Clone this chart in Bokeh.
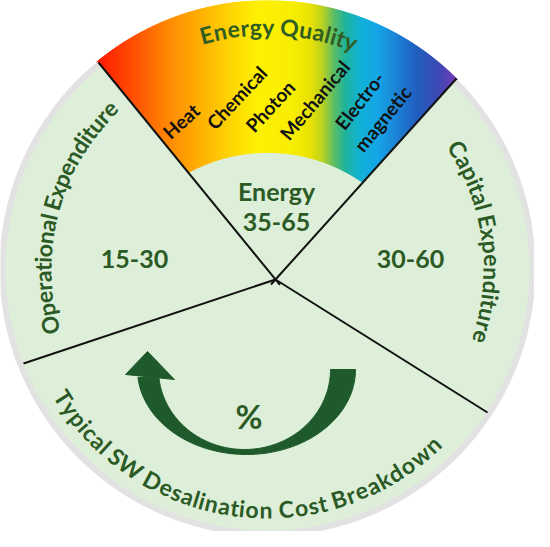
import math
from bokeh.plotting import figure
from bokeh.models import Range1d
from bokeh.core.properties import value
from bokeh.embed import file_html
from bokeh.resources import INLINE

# ---------------- content ----------------
chart_title = "Typical SW Desalination Cost Breakdown"
unit_label = "%"
energy_title = "Energy Quality"
segment_names = ["Energy", "Operational Expenditure", "Capital Expenditure"]
segment_ranges = ["35-65", "15-30", "30-60"]
energy_forms = ["Heat", "Chemical", "Photon", "Mechanical", "Electro-", "magnetic"]

# ---------------- layout / style ----------------
W, H = 550, 547
FONT = "Lato"
GREEN_TXT = "#2b5a25"
ARROW = "#1e5a2b"
BG_GREEN = "#ddefd9"
RIM = "#e2e2e2"

CX, CY = 275.0, 276.0          # circle centre (screen px)
R_OUT, R_IN = 268.0, 262.0
HUB = (283.0, 287.0)
ENDS = {"ul": (106, 70), "ur": (464, 86), "l": (31, 371), "lr": (495, 420)}
IN_C, IN_R = (275.0, 326.0), 166.0

RAINBOW = [(104, "#ff1400"), (140, "#ff4c00"), (175, "#ff8600"), (210, "#ffb200"),
           (245, "#ffdc00"), (265, "#fff000"), (300, "#f8ee00"), (318, "#eae200"),
           (330, "#bcd21e"), (342, "#5abb66"), (353, "#1db39a"), (368, "#0fb0d6"),
           (386, "#14a4e8"), (405, "#1a7fd4"), (425, "#1f5cbd"), (445, "#3848b4"),
           (466, "#7a36b4")]

def D(x, y):
    return x, H - y

def hex2rgb(h):
    return tuple(int(h[i:i + 2], 16) for i in (1, 3, 5))

def color_at(x):
    if x <= RAINBOW[0][0]:
        return RAINBOW[0][1]
    for (x0, c0), (x1, c1) in zip(RAINBOW[:-1], RAINBOW[1:]):
        if x0 <= x <= x1:
            t = (x - x0) / (x1 - x0)
            a, b = hex2rgb(c0), hex2rgb(c1)
            return "#%02x%02x%02x" % tuple(int(round(a[i] + (b[i] - a[i]) * t)) for i in range(3))
    return RAINBOW[-1][1]

p = figure(width=534, height=531, output_backend="svg", toolbar_location=None,
           x_range=Range1d(8, 542), y_range=Range1d(8, 539),
           min_border=0, outline_line_color=None, background_fill_color="white",
           border_fill_color="white")
p.axis.visible = False
p.grid.visible = False

# base disc
p.circle(x=[CX], y=[H - CY], radius=R_OUT, fill_color=RIM, line_color=None)
p.circle(x=[CX], y=[H - CY], radius=R_IN, fill_color=BG_GREEN, line_color=None)

# rainbow band (energy quality)
def y_top(x):
    d = R_OUT ** 2 - (x - CX) ** 2
    return CY - math.sqrt(d) if d > 0 else 1e9

def y_bot(x):
    hx, hy = HUB
    ulx, uly = ENDS["ul"]
    urx, ury = ENDS["ur"]
    yl = hy + (x - hx) * (hy - uly) / (hx - ulx)
    yr = hy + (x - hx) * (ury - hy) / (urx - hx)
    d = IN_R ** 2 - (x - IN_C[0]) ** 2
    yi = IN_C[1] - math.sqrt(d) if d > 0 else 1e9
    return min(yl, yr, yi)

xs, ys, cols = [], [], []
step = 1.0
x = 100.0
while x < 470:
    x0, x1 = x, x + step + 0.4
    t0, t1 = y_top(x0), y_top(x1)
    b0, b1 = y_bot(x0), y_bot(x1)
    if (b0 > t0 or b1 > t1) and t0 < 1e8 and t1 < 1e8:
        b0, b1 = max(b0, t0), max(b1, t1)
        xs.append([x0, x1, x1, x0])
        ys.append([H - t0, H - t1, H - b1, H - b0])
        cols.append(color_at(x + step / 2))
    x += step
p.patches(xs=xs, ys=ys, fill_color=cols, line_color=cols, line_width=0.5)

# divider lines
hx, hy = HUB
def ext(end, k):
    ex, ey = end
    return hx + (hx - ex) * k, hy + (hy - ey) * k
x0s, y0s, x1s, y1s = [], [], [], []
for key in ["ul", "ur", "l", "lr"]:
    sx, sy = ext(ENDS[key], 0.025) if key in ("ul", "ur") else (hx, hy)
    ex, ey = ENDS[key]
    x0s.append(sx); y0s.append(H - sy); x1s.append(ex); y1s.append(H - ey)
p.segment(x0=x0s, y0=y0s, x1=x1s, y1=y1s, line_color="#111111", line_width=2)

# curved arrow
N = 80
outer = [(254 + 109 * math.cos(math.radians(t)), 377 + 85 * math.sin(math.radians(t)))
         for t in [i * 174.6 / N for i in range(N + 1)]]
inner = [(252 + 86 * math.cos(math.radians(t)), 377 + 80 * math.sin(math.radians(t)))
         for t in [i * 174.3 / N for i in range(N + 1)]]
body = outer + inner[::-1]
p.patch(x=[q[0] for q in body], y=[H - q[1] for q in body], fill_color=ARROW, line_color=ARROW, line_width=1)
head = [(133, 382), (155, 359), (182, 387)]
p.patch(x=[q[0] for q in head], y=[H - q[1] for q in head], fill_color=ARROW, line_color=ARROW, line_width=1)

# --------------- text helpers ---------------
WID = {" ": .2, "a": .49, "b": .55, "c": .45, "d": .55, "e": .53, "g": .5, "h": .55, "i": .24,
       "k": .5, "l": .24, "m": .83, "n": .55, "o": .56, "p": .55, "r": .37, "s": .41, "t": .34,
       "u": .55, "w": .77, "x": .49, "y": .5, "C": .66, "D": .7, "E": .55, "B": .62, "O": .78,
       "Q": .78, "S": .48, "T": .52, "W": .95}

def arc_text(text, center_deg, span_deg, r_base, size, clockwise, bold=False, color=GREEN_TXT):
    ws = [WID.get(ch, .52) for ch in text]
    total = sum(ws)
    k = span_deg / total
    acc = 0.0
    X, Y, A, T = [], [], [], []
    for ch, w in zip(text, ws):
        mid = acc + w / 2
        acc += w
        off = (mid - total / 2) * k
        if clockwise:
            phi = center_deg - off
            rot = phi - 90
        else:
            phi = center_deg + off
            rot = phi + 90
        X.append(CX + r_base * math.cos(math.radians(phi)))
        Y.append((H - CY) + r_base * math.sin(math.radians(phi)))
        A.append(math.radians(rot))
        T.append(ch)
    p.text(x=X, y=Y, text=T, angle=A, text_align="center", text_baseline="alphabetic",
           text_font=value(FONT), text_font_size=f"{size}px",
           text_font_style="bold" if bold else "normal", text_color=color)

# energy quality title along top arc
arc_text(energy_title, 87.3, 38.0, 242, 23, True, bold=True, color="#2f5d22")
# side captions
arc_text(segment_names[1], 165.0, 64.0, 225, 23, True, bold=True)
arc_text(segment_names[2], 7.4, 53.7, 225, 23, True, bold=True)
# bottom caption
arc_text(chart_title, -97.2, 104.0, 241, 23, False, bold=True)

# energy forms (rotated labels)
form_pos = [(188.5, 128.5, 42), (244, 105, 47), (277.5, 113.5, 47),
            (322, 107.5, 50), (367, 108, 52), (390, 126, 51)]
fx = [D(a, b)[0] for a, b, c in form_pos]
fy = [D(a, b)[1] for a, b, c in form_pos]
fa = [math.radians(c) for a, b, c in form_pos]
p.text(x=fx, y=fy, text=energy_forms, angle=fa, text_align="center", text_baseline="middle",
       text_font=value(FONT), text_font_size="19px", text_font_style="bold", text_color="#111111")

# segment values
lab_x = [284, 284, 142, 418]
lab_y = [198, 229, 266, 266]
lab_t = [segment_names[0], segment_ranges[0], segment_ranges[1], segment_ranges[2]]
p.text(x=lab_x, y=[H - v for v in lab_y], text=lab_t, text_align="center",
       text_baseline="alphabetic", text_font=value(FONT), text_font_size="25px",
       text_font_style="bold", text_color=GREEN_TXT)

# percent sign
p.text(x=[256.5], y=[H - 423], text=[unit_label], text_align="center", text_baseline="alphabetic",
       text_font=value(FONT), text_font_size="33px", text_font_style="bold", text_color=GREEN_TXT)

open("out.html", "w").write(file_html(p, INLINE))
